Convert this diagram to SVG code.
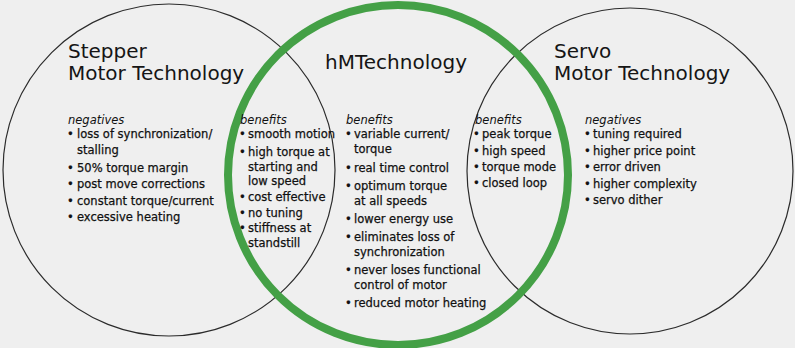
<svg xmlns="http://www.w3.org/2000/svg" width="795" height="348" viewBox="0 0 795 348">
  <style>
    .ring { fill: none; stroke: #2b2b2b; stroke-width: 1.2; }
    .hm { fill: none; stroke: #44a046; stroke-width: 8; }
    .title { font-family: "DejaVu Sans", "Liberation Sans", sans-serif; font-size: 20px; fill: #151515; }
    .head { font-family: "DejaVu Sans", "Liberation Sans", sans-serif; font-size: 11.5px; font-style: italic; fill: #111; }
    .item { font-family: "DejaVu Sans", "Liberation Sans", sans-serif; font-size: 11.5px; fill: #111; stroke: #111; stroke-width: 0.25; }
  </style>
  <rect width="795" height="348" fill="#efefef"/>

  <!-- outer rings -->
  <g id="stepper">
    <circle class="ring" cx="169" cy="170" r="166"/>
    <text class="title" x="68" y="58">Stepper</text>
    <text class="title" x="68" y="80">Motor Technology</text>
  </g>
  <g id="servo">
    <circle class="ring" cx="630" cy="171" r="163"/>
    <text class="title" x="554" y="58">Servo</text>
    <text class="title" x="554" y="80">Motor Technology</text>
  </g>
  <g id="hm-technology">
    <circle class="hm" cx="398" cy="175" r="170"/>
    <text class="title" x="325" y="69">hMTechnology</text>
  </g>

  <!-- stepper negatives -->
  <g id="stepper-negatives">
    <text class="head" x="68" y="124">negatives</text>
    <g class="item">
      <text x="67" y="138">•</text><text x="77" y="138">loss of synchronization/</text>
      <text x="77" y="154">stalling</text>
      <text x="67" y="172">•</text><text x="77" y="172">50% torque margin</text>
      <text x="67" y="188">•</text><text x="77" y="188">post move corrections</text>
      <text x="67" y="205">•</text><text x="77" y="205">constant torque/current</text>
      <text x="67" y="221">•</text><text x="77" y="221">excessive heating</text>
    </g>
  </g>

  <!-- stepper / hM overlap -->
  <g id="stepper-hm-benefits">
    <text class="head" x="240" y="124">benefits</text>
    <g class="item">
      <text x="239" y="138">•</text><text x="248" y="138">smooth motion</text>
      <text x="239" y="156">•</text><text x="248" y="156">high torque at</text>
      <text x="248" y="171">starting and</text>
      <text x="248" y="185">low speed</text>
      <text x="239" y="201">•</text><text x="248" y="201">cost effective</text>
      <text x="239" y="217">•</text><text x="248" y="217">no tuning</text>
      <text x="239" y="232">•</text><text x="248" y="232">stiffness at</text>
      <text x="248" y="247">standstill</text>
    </g>
  </g>

  <!-- hM centre -->
  <g id="hm-benefits">
    <text class="head" x="346" y="124">benefits</text>
    <g class="item">
      <text x="345" y="138">•</text><text x="354" y="138">variable current/</text>
      <text x="354" y="153">torque</text>
      <text x="345" y="172">•</text><text x="354" y="172">real time control</text>
      <text x="345" y="190">•</text><text x="354" y="190">optimum torque</text>
      <text x="354" y="205">at all speeds</text>
      <text x="345" y="223">•</text><text x="354" y="223">lower energy use</text>
      <text x="345" y="241">•</text><text x="354" y="241">eliminates loss of</text>
      <text x="354" y="256">synchronization</text>
      <text x="345" y="274">•</text><text x="354" y="274">never loses functional</text>
      <text x="354" y="289">control of motor</text>
      <text x="345" y="307">•</text><text x="354" y="307">reduced motor heating</text>
    </g>
  </g>

  <!-- hM / servo overlap -->
  <g id="servo-hm-benefits">
    <text class="head" x="475" y="124">benefits</text>
    <g class="item">
      <text x="473" y="138">•</text><text x="482" y="138">peak torque</text>
      <text x="473" y="155">•</text><text x="482" y="155">high speed</text>
      <text x="473" y="171">•</text><text x="482" y="171">torque mode</text>
      <text x="473" y="187">•</text><text x="482" y="187">closed loop</text>
    </g>
  </g>

  <!-- servo negatives -->
  <g id="servo-negatives">
    <text class="head" x="585" y="124">negatives</text>
    <g class="item">
      <text x="584" y="138">•</text><text x="593" y="138">tuning required</text>
      <text x="584" y="155">•</text><text x="593" y="155">higher price point</text>
      <text x="584" y="171">•</text><text x="593" y="171">error driven</text>
      <text x="584" y="188">•</text><text x="593" y="188">higher complexity</text>
      <text x="584" y="204">•</text><text x="593" y="204">servo dither</text>
    </g>
  </g>
</svg>
